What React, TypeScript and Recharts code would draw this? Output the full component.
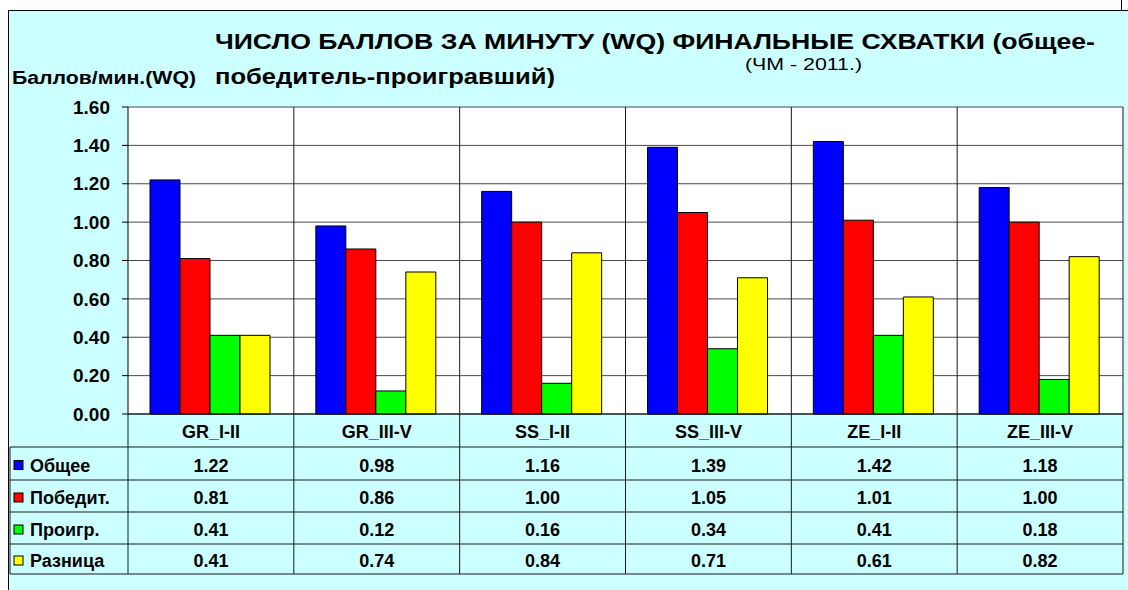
import React from 'react';
import { BarChart, Bar, XAxis, YAxis, CartesianGrid } from 'recharts';

const categories = ['GR_I-II', 'GR_III-V', 'SS_I-II', 'SS_III-V', 'ZE_I-II', 'ZE_III-V'];
const totalValues = [1.22, 0.98, 1.16, 1.39, 1.42, 1.18];
const winnerValues = [0.81, 0.86, 1.0, 1.05, 1.01, 1.0];
const loserValues = [0.41, 0.12, 0.16, 0.34, 0.41, 0.18];
const diffValues = [0.41, 0.74, 0.84, 0.71, 0.61, 0.82];
const seriesNames = ['Общее', 'Победит.', 'Проигр.', 'Разница'];
const seriesKeys = ['total', 'winner', 'loser', 'diff'];
const seriesColors = ['#0000FF', '#FF0000', '#00FF00', '#FFFF00'];
const yTicks = [0, 0.2, 0.4, 0.6, 0.8, 1.0, 1.2, 1.4, 1.6];

const titleLine1 = 'ЧИСЛО БАЛЛОВ ЗА МИНУТУ (WQ) ФИНАЛЬНЫЕ СХВАТКИ (общее-';
const titleLine2 = 'победитель-проигравший)';
const subtitle = '(ЧМ - 2011.)';
const yLabel = 'Баллов/мин.(WQ)';

const seriesValues = [totalValues, winnerValues, loserValues, diffValues];
const data = categories.map((cat, i) => ({
  cat,
  total: totalValues[i],
  winner: winnerValues[i],
  loser: loserValues[i],
  diff: diffValues[i],
}));

const FONT = '"Liberation Sans", Arial, sans-serif';
const W = 1128;
const H = 590;
const PLOT_LEFT = 128;
const PLOT_RIGHT = 1123;
const PLOT_TOP = 107;
const PLOT_BOTTOM = 414;
const TABLE_H = 160;
const Y_AXIS_W = 60;
const ROWS = [0, 33, 66, 98, 130, 160];
const LINE = '#1a1a1a';

function TableTick(props: any) {
  const { x, y, payload } = props;
  const i = categories.indexOf(payload.value);
  const bw = (PLOT_RIGHT - PLOT_LEFT) / categories.length;
  const left = x - bw / 2;
  const right = x + bw / 2;
  const txt = { fontFamily: FONT, fontWeight: 700, fontSize: 18, fill: '#000' } as any;
  return (
    <g>
      <line x1={right} x2={right} y1={y - (PLOT_BOTTOM - PLOT_TOP)} y2={y + ROWS[5]} stroke={LINE} />
      {i === 0 && <line x1={left} x2={left} y1={y} y2={y + ROWS[5]} stroke={LINE} />}
      {ROWS.slice(1).map((r, k) => (
        <line key={k} x1={left} x2={right} y1={y + r} y2={y + r} stroke={LINE} />
      ))}
      <text x={x} y={y + ROWS[1] / 2 + 1} dy="0.35em" textAnchor="middle" {...txt}>
        {payload.value}
      </text>
      {seriesValues.map((vals, k) => (
        <text key={k} x={x} y={y + (ROWS[k + 1] + ROWS[k + 2]) / 2 + 2} dy="0.35em" textAnchor="middle" {...txt}>
          {vals[i].toFixed(2)}
        </text>
      ))}
      {i === 0 && (
        <g>
          <line x1={10} x2={10} y1={y + ROWS[1]} y2={y + ROWS[5]} stroke={LINE} />
          {ROWS.slice(1).map((r, k) => (
            <line key={k} x1={10} x2={left} y1={y + r} y2={y + r} stroke={LINE} />
          ))}
          {seriesNames.map((name, k) => {
            const cy = y + (ROWS[k + 1] + ROWS[k + 2]) / 2 + 2;
            return (
              <g key={k}>
                <rect x={14} y={cy - 5} width={9} height={9} fill={seriesColors[k]} stroke="#000" strokeWidth={1} />
                <text x={30} y={cy} dy="0.35em" textAnchor="start" {...txt}>
                  {name}
                </text>
              </g>
            );
          })}
        </g>
      )}
    </g>
  );
}

export default function App() {
  return (
    <div style={{ position: 'absolute', left: 0, top: 0, width: W, height: H, overflow: 'hidden', background: '#fff' }}>
      <div
        style={{
          position: 'absolute',
          left: 8,
          top: 10,
          width: 1140,
          height: 600,
          background: '#CCFFFF',
          borderLeft: '1px solid #000',
          borderTop: '1px solid #000',
        }}
      />
      <div style={{ position: 'absolute', left: 1121, top: 0, width: 1, height: 10, background: '#000' }} />
      <div style={{ position: 'absolute', left: 0, top: 0 }}>
        <BarChart
          width={W}
          height={H}
          data={data}
          margin={{ top: PLOT_TOP, right: W - PLOT_RIGHT, left: PLOT_LEFT - Y_AXIS_W, bottom: H - PLOT_BOTTOM - TABLE_H }}
          barCategoryGap={22}
          barGap={0}
        >
          <CartesianGrid vertical={false} stroke="#4a4a4a" fill="#ffffff" fillOpacity={1} />
          <XAxis
            dataKey="cat"
            height={TABLE_H}
            tick={<TableTick />}
            tickLine={false}
            tickSize={0}
            tickMargin={0}
            interval={0}
            axisLine={{ stroke: '#000' }}
          />
          <YAxis
            domain={[0, 1.6]}
            ticks={yTicks}
            width={Y_AXIS_W}
            interval={0}
            tickFormatter={(v: number) => v.toFixed(2)}
            tick={{ fontSize: 19, fontWeight: 700, fill: '#000', fontFamily: FONT }}
            tickSize={6}
            tickMargin={12}
            axisLine={{ stroke: '#000' }}
            tickLine={{ stroke: '#000' }}
          />
          {seriesKeys.map((k, idx) => (
            <Bar
              key={k}
              dataKey={k}
              name={seriesNames[idx]}
              fill={seriesColors[idx]}
              stroke="#000"
              strokeWidth={1}
              isAnimationActive={false}
            />
          ))}
        </BarChart>
      </div>
      <svg width={W} height={H} style={{ position: 'absolute', left: 0, top: 0, pointerEvents: 'none' }}>
        <defs>
          <clipPath id="titleClip">
            <rect x={0} y={0} width={W} height={88} />
          </clipPath>
        </defs>
        <g clipPath="url(#titleClip)" fontFamily={FONT} fontWeight={700} fill="#000">
          <text x={215} y={49} fontSize={22} textLength={880} lengthAdjust="spacingAndGlyphs">
            {titleLine1}
          </text>
          <text x={215} y={84} fontSize={22} textLength={340} lengthAdjust="spacingAndGlyphs">
            {titleLine2}
          </text>
        </g>
        <text x={745} y={70} fontSize={16} fontFamily={FONT} fill="#000" textLength={117} lengthAdjust="spacingAndGlyphs">
          {subtitle}
        </text>
        <text x={12} y={84} fontSize={19} fontWeight={700} fontFamily={FONT} fill="#000" textLength={184} lengthAdjust="spacingAndGlyphs">
          {yLabel}
        </text>
      </svg>
    </div>
  );
}
